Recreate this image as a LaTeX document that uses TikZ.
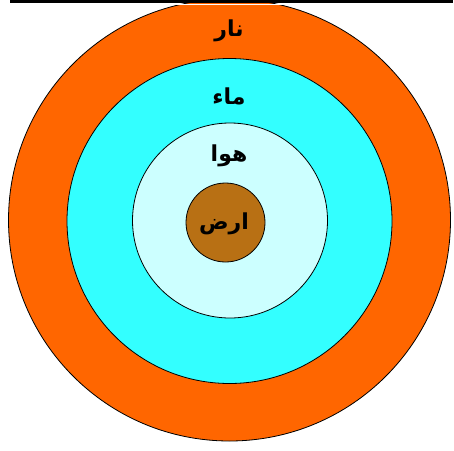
\documentclass[tikz,border=0pt]{standalone}
\usepackage{fontspec}
\newfontfamily\arabicfont[Script=Arabic]{DejaVu Sans}
\TeXXeTstate=1
\definecolor{narcol}{HTML}{FF6600}
\definecolor{maacol}{HTML}{33FFFF}
\definecolor{hawacol}{HTML}{CCFFFF}
\definecolor{arzcol}{HTML}{B87014}

\begin{document}
\begin{tikzpicture}[x=1pt, y=-1pt,
    ring/.style={circle, draw, inner sep=0pt, line width=0.8pt},
    word/.style={font=\arabicfont\bfseries\fontsize{22}{26}\selectfont, inner sep=1pt}]
    \useasboundingbox (0,0) rectangle (454,450);
    \coordinate (O) at (229.5,220);
    \node[ring, fill=narcol, minimum size=442] (nar) at (O) {};
    \node[ring, fill=maacol, minimum size=325] (maa) at (229.5,221) {};
    \node[ring, fill=hawacol, minimum size=195] (hawa) at (230,220.5) {};
    \node[ring, fill=arzcol, minimum size=79] (arz) at (225.5,222.5) {};
    % top rule
    \draw[white, line width=1.2] (150,4.7) -- (310,4.7);
    \draw[line width=2.6] (10,1.3) -- (453,1.3);
    \node[word] (tnar) at (229,31) {\beginR نار\endR};
    \node[word] (tmaa) at (229,96) {\beginR ماء\endR};
    \node[word] (thawa) at (229,156) {\beginR هوا\endR};
    \node[word] (tarz) at (224,224) {\beginR ارض\endR};
\end{tikzpicture}
\end{document}
